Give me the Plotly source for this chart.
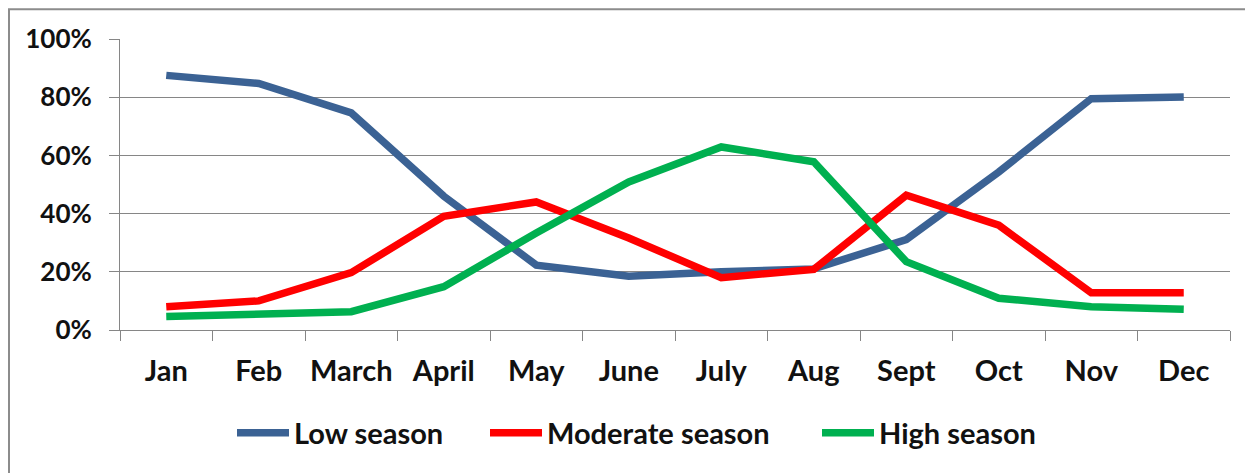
import plotly.graph_objects as go

months = ["Jan", "Feb", "March", "April", "May", "June", "July", "Aug", "Sept", "Oct", "Nov", "Dec"]
low_season = [0.875, 0.847, 0.746, 0.46, 0.223, 0.185, 0.20, 0.21, 0.311, 0.543, 0.795, 0.801]
moderate_season = [0.08, 0.10, 0.197, 0.391, 0.44, 0.316, 0.18, 0.208, 0.463, 0.36, 0.128, 0.128]
high_season = [0.046, 0.055, 0.063, 0.149, 0.333, 0.509, 0.629, 0.578, 0.235, 0.109, 0.08, 0.071]

series = [
    ("Low season", low_season, "#3B6294", 232, "legend"),
    ("Moderate season", moderate_season, "#FF0000", 485, "legend2"),
    ("High season", high_season, "#00B050", 817, "legend3"),
]

# page has an 8px body margin; work in screen coordinates
OFF = 8
W, H = 1253 - OFF, 473 - OFF
PL, PR, PT, PB = 120, 1230, 38.7, 330   # plot area in screen px
L, R, T, B = PL - OFF, 1253 - PR, PT - OFF, 473 - PB
pw, ph = PR - PL, PB - PT

def px(sx):
    return (sx - PL) / pw

def py(sy):
    return (PB - sy) / ph

fig = go.Figure()
for name, vals, col, lx, leg in series:
    fig.add_trace(go.Scatter(x=months, y=vals, name=name, mode="lines", legend=leg,
                             line=dict(color=col, width=7.5)))

yfont = dict(family="Lato", size=26, color="#111111", weight="bold")
xfont = dict(family="Lato", size=29, color="#111111", weight="bold")
lfont = dict(family="Lato", size=29, color="#111111", weight="bold")

legends = {}
for name, vals, col, lx, leg in series:
    legends[leg] = dict(orientation="h", x=px(lx), xanchor="left",
                        y=py(433), yanchor="middle", font=lfont, itemwidth=52,
                        bgcolor="rgba(0,0,0,0)")

fig.update_layout(
    width=W, height=H,
    margin=dict(l=L, r=R, t=T, b=B, pad=0),
    paper_bgcolor="white", plot_bgcolor="white",
    font=yfont,
    showlegend=True,
    **legends,
    xaxis=dict(type="category", showgrid=False, showline=True, linecolor="#868686",
               linewidth=1, ticks="outside", ticklen=10, tickcolor="#868686",
               tickson="boundaries", tickfont=xfont, ticklabelstandoff=15,
               range=[-0.5, 11.5], fixedrange=True),
    yaxis=dict(range=[0, 1], dtick=0.2, tickformat=".0%", showgrid=True,
               gridcolor="#868686", gridwidth=1, showline=True, linecolor="#868686",
               linewidth=1, ticks="outside", ticklen=10, tickcolor="#868686",
               tickfont=yfont, ticklabelstandoff=12, zeroline=False, fixedrange=True),
    shapes=[dict(type="rect", xref="paper", yref="paper",
                 x0=px(9), x1=px(1265), y0=py(485), y1=py(9),
                 line=dict(color="#8C8C8C", width=2), fillcolor="rgba(0,0,0,0)",
                 layer="below")],
)

fig.write_html("out.html")
